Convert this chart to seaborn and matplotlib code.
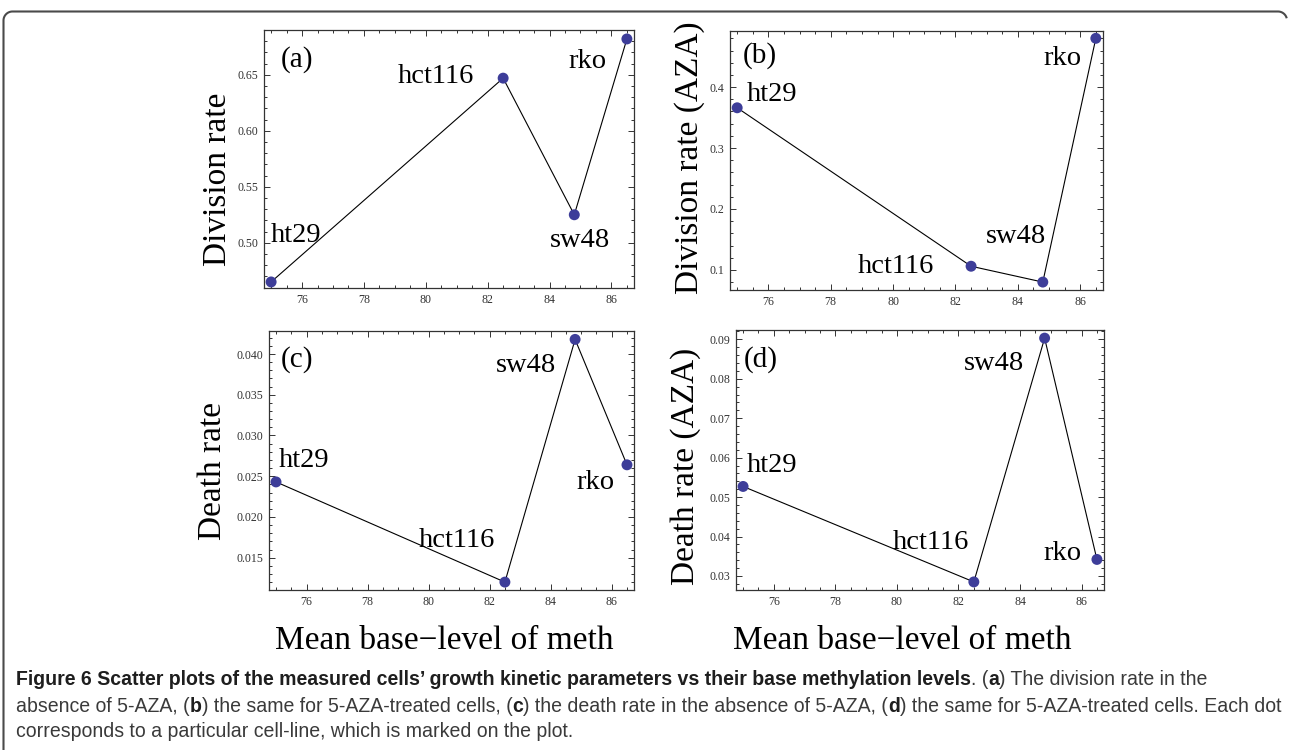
import numpy as np
import pandas as pd
import matplotlib
matplotlib.use("Agg")
import matplotlib.pyplot as plt
import matplotlib.font_manager as fm
import seaborn as sns
from matplotlib.lines import Line2D
from matplotlib.ticker import MultipleLocator, FixedLocator, FixedFormatter

# ---------------- data ----------------
cell_lines = ["ht29", "hct116", "sw48", "rko"]
meth_level = [75.0, 82.5, 84.8, 86.5]
division_rate = [0.465, 0.647, 0.525, 0.682]
division_rate_aza = [0.366, 0.106, 0.080, 0.480]
death_rate = [0.0243, 0.0120, 0.0418, 0.0264]
death_rate_aza = [0.0527, 0.0285, 0.0903, 0.0342]

panel_letters = ["(a)", "(b)", "(c)", "(d)"]
y_titles = ["Division rate", "Division rate (AZA)", "Death rate", "Death rate (AZA)"]
x_title = "Mean base\u2212level of meth"

x_tick_values = [76, 78, 80, 82, 84, 86]
x_tick_labels = ["76", "78", "80", "82", "84", "86"]
y_tick_values_a = [0.50, 0.55, 0.60, 0.65]
y_tick_labels_a = ["0.50", "0.55", "0.60", "0.65"]
y_tick_values_b = [0.1, 0.2, 0.3, 0.4]
y_tick_labels_b = ["0.1", "0.2", "0.3", "0.4"]
y_tick_values_c = [0.015, 0.020, 0.025, 0.030, 0.035, 0.040]
y_tick_labels_c = ["0.015", "0.020", "0.025", "0.030", "0.035", "0.040"]
y_tick_values_d = [0.03, 0.04, 0.05, 0.06, 0.07, 0.08, 0.09]
y_tick_labels_d = ["0.03", "0.04", "0.05", "0.06", "0.07", "0.08", "0.09"]

caption_lines = [
    [("Figure 6 Scatter plots of the measured cells\u2019 growth kinetic parameters vs their base methylation levels", True),
     (". (", False), ("a", True), (") The division rate in the", False)],
    [("absence of 5-AZA, (", False), ("b", True), (") the same for 5-AZA-treated cells, (", False), ("c", True),
     (") the death rate in the absence of 5-AZA, (", False), ("d", True),
     (") the same for 5-AZA-treated cells. Each dot", False)],
    [("corresponds to a particular cell-line, which is marked on the plot.", False)],
]

# ---------------- style ----------------
sns.set_theme(style="ticks")
SERIF = ["Liberation Serif", "DejaVu Serif"]
plt.rcParams["font.family"] = SERIF
plt.rcParams["mathtext.fontset"] = "custom"

W, H, DPI = 12.9, 7.5, 100
fig = plt.figure(figsize=(W, H), dpi=DPI)
fig.patch.set_facecolor("white")
PW, PH = W * DPI, H * DPI

MARK = "#3d3d99"
FRAME = "#333333"

panels = [
    dict(vals=division_rate, box=(264, 30, 634, 288), ylim=(0.4596, 0.690), minor=0.01,
         yt=(y_tick_values_a, y_tick_labels_a), letter=(0.089, 0.884),
         ylab=(217.5, 179),
         offs=[(25, 49), (-67, 5), (6, -23), (-39, -20)]),
    dict(vals=division_rate_aza, box=(730, 31, 1103, 290), ylim=(0.067, 0.492), minor=0.02,
         yt=(y_tick_values_b, y_tick_labels_b), letter=(0.081, 0.907),
         ylab=(689.5, 158),
         offs=[(35, 16), (-75, 3), (-27, 49), (-33, -17)]),
    dict(vals=death_rate, box=(269, 331, 634, 590), ylim=(0.01103, 0.04283), minor=0.001,
         yt=(y_tick_values_c, y_tick_labels_c), letter=(0.077, 0.888),
         ylab=(212.5, 471),
         offs=[(28, 24), (-48, 45), (-49, -23), (-32, -15)]),
    dict(vals=death_rate_aza, box=(736, 330, 1104, 590), ylim=(0.02645, 0.09236), minor=0.002,
         yt=(y_tick_values_d, y_tick_labels_d), letter=(0.066, 0.885),
         ylab=(685.5, 466),
         offs=[(29, 24), (-43, 42), (-51, -22), (-34, 9)]),
]

for i, p in enumerate(panels):
    l, t, r, b = p["box"]
    ax = fig.add_axes([l / PW, 1 - b / PH, (r - l) / PW, (b - t) / PH])
    df = pd.DataFrame({"meth": meth_level, "rate": p["vals"], "cell": cell_lines})
    sns.lineplot(data=df, x="meth", y="rate", sort=False, estimator=None,
                 color="black", lw=0.8, ax=ax, zorder=2)
    sns.scatterplot(data=df, x="meth", y="rate", color=MARK, s=62,
                    edgecolor="none", linewidth=0, ax=ax, zorder=3)
    ax.set_xlim(74.77, 86.73)
    ax.set_ylim(*p["ylim"])
    ax.xaxis.set_major_locator(FixedLocator(x_tick_values))
    ax.xaxis.set_major_formatter(FixedFormatter(x_tick_labels))
    ax.xaxis.set_minor_locator(MultipleLocator(0.5))
    ax.yaxis.set_major_locator(FixedLocator(p["yt"][0]))
    ax.yaxis.set_major_formatter(FixedFormatter(p["yt"][1]))
    ax.yaxis.set_minor_locator(MultipleLocator(p["minor"]))
    ax.tick_params(which="both", direction="in", top=True, right=True,
                   color=FRAME, labelcolor="#333333", labelsize=8.6, width=0.7)
    ax.tick_params(which="major", length=4.3, pad=4)
    ax.tick_params(which="minor", length=2.2)
    for sp in ax.spines.values():
        sp.set_color(FRAME)
        sp.set_linewidth(0.9)
    ax.set_xlabel("")
    ax.set_ylabel("")
    ax.set_facecolor("white")
    # cell line labels
    for (name, xv, yv, (dx, dy)) in zip(cell_lines, meth_level, p["vals"], p["offs"]):
        ax.annotate(name, xy=(xv, yv), xytext=(dx, dy - 9.5), textcoords="offset pixels",
                    ha="center", va="baseline", fontsize=20.5, color="black")
    # panel letter
    ax.text(p["letter"][0], p["letter"][1], panel_letters[i], transform=ax.transAxes,
            ha="center", va="center", fontsize=21, color="black")
    # y title
    fig.text(p["ylab"][0] / PW, 1 - p["ylab"][1] / PH, y_titles[i], rotation=90,
             ha="center", va="center", fontsize=24, color="black")

# x titles
for cx in (444.5, 902):
    fig.text(cx / PW, 1 - 649 / PH, x_title, ha="center", va="baseline",
             fontsize=24, color="black")

# ---------------- caption ----------------
names = {f.name for f in fm.fontManager.ttflist}
if "Liberation Sans Narrow" in names:
    CAP = ["Liberation Sans Narrow", "DejaVu Sans"]
else:
    CAP = ["Liberation Sans", "DejaVu Sans"]

renderer = fig.canvas.get_renderer()


def draw_line(segs, x0, ybase, size, draw=True):
    x = x0
    arts = []
    for txt, bold in segs:
        a = fig.text(x / PW, 1 - ybase / PH, txt, family=CAP, fontsize=size,
                     fontweight="bold" if bold else "normal",
                     color="#1e1e1e" if bold else "#3a3a3a", ha="left", va="baseline")
        w = a.get_window_extent(renderer).width
        x += w
        arts.append(a)
    if not draw:
        for a in arts:
            a.remove()
    return x - x0


base_size = 12.0
w2 = draw_line(caption_lines[1], 16, 706, base_size, draw=False)
cap_size = base_size * (1267.0 / w2)
for segs, yb in zip(caption_lines, (685, 712, 737)):
    draw_line(segs, 16, yb, cap_size)

# ---------------- frame border ----------------
r = 9
xl, yt_, xr = 3.5, 11.5, 1287
th = np.linspace(np.pi, np.pi / 2, 20)
arc_l_x = xl + r + r * np.cos(th)
arc_l_y = yt_ + r - r * np.sin(th)
th2 = np.linspace(np.pi / 2, 0.25, 20)
arc_r_x = xr - r + r * np.cos(th2)
arc_r_y = yt_ + r - r * np.sin(th2)
bx = np.concatenate([[xl], arc_l_x, arc_r_x])
by = np.concatenate([[PH], arc_l_y, arc_r_y])
fig.add_artist(Line2D(bx / PW, 1 - by / PH, transform=fig.transFigure,
                      color="#4a4a4a", lw=1.5, solid_capstyle="butt"))

fig.savefig("out.png", dpi=DPI, facecolor="white")
